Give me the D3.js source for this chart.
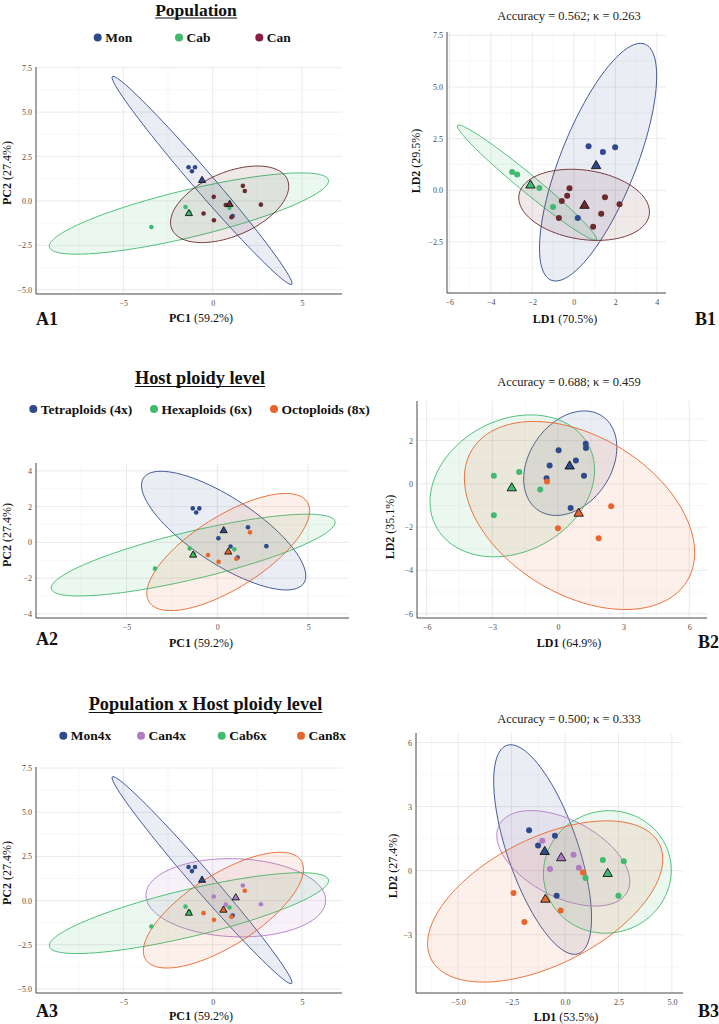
<!DOCTYPE html>
<html><head><meta charset="utf-8">
<script src="https://cdn.jsdelivr.net/npm/d3@7"></script>
<style>body{margin:0;background:#fff;} svg{display:block;font-family:"Liberation Serif","Times New Roman",serif;}</style>
</head><body><svg id="c" width="719" height="1024"></svg>
<script>
// ---------------- DATA ----------------
// PCA scores (PC1, PC2)
const pcaMon   = [[-1.35,1.90],[-0.99,1.90],[-1.16,1.67],[1.12,-0.85]];
const pcaCab   = [[-1.52,-0.34],[-3.43,-1.47],[0.94,-0.39],[-1.31,-0.64]];
const pcaCan4x = [[0.06,0.23],[1.69,0.85],[0.73,-0.23],[2.70,-0.21]];
const pcaCan8x = [[1.80,0.56],[-0.51,-0.71],[0.07,-1.09],[1.05,-0.92]];
// LDA by population (LD1, LD2)
const lda1Mon = [[0.71,2.13],[1.40,1.85],[1.99,2.08],[0.19,-1.34]];
const lda1Cab = [[-2.97,0.89],[-2.73,0.77],[-1.66,0.11],[-1.00,-0.81]];
const lda1Can = [[-0.21,0.10],[-0.32,-0.26],[-0.58,-0.52],[-0.72,-1.34],[0.93,-1.77],[1.32,-1.13],[1.50,-0.34],[2.20,-0.68]];
// LDA by host ploidy
const lda2Tetra = [[1.27,1.85],[1.28,1.66],[0.03,1.55],[0.82,1.08],[-0.38,0.85],[1.19,0.37],[-0.52,0.26],[0.58,-1.12]];
const lda2Hexa  = [[-2.93,0.37],[-1.77,0.55],[-2.93,-1.45],[-0.81,-0.26]];
const lda2Octo  = [[-0.50,0.11],[2.43,-1.03],[0.00,-2.05],[1.86,-2.51]];
// LDA by population x ploidy
const lda3Mon4x = [[-1.68,1.90],[-1.26,1.18],[-0.47,1.64],[-0.39,-1.18]];
const lda3Can4x = [[-1.06,1.40],[0.40,0.75],[-0.70,0.08],[0.65,0.14]];
const lda3Cab6x = [[1.77,0.50],[2.75,0.44],[0.96,-0.34],[2.50,-1.17]];
const lda3Can8x = [[0.84,-0.09],[-2.41,-1.04],[-1.90,-2.40],[-0.20,-1.87]];

// categories / labels
const catsPop    = ["Mon","Cab","Can"];
const catsPloidy = ["Tetraploids (4x)","Hexaploids (6x)","Octoploids (8x)"];
const catsPopPl  = ["Mon4x","Can4x","Cab6x","Can8x"];
const titles     = ["Population","Host ploidy level","Population x Host ploidy level"];
const accLabels  = ["Accuracy = 0.562; \u03BA = 0.263","Accuracy = 0.688; \u03BA = 0.459","Accuracy = 0.500; \u03BA = 0.333"];
const pcVar = ["PC1"," (59.2%)","PC2"," (27.4%)"];
const ldVar = [["LD1"," (70.5%)","LD2"," (29.5%)"],["LD1"," (64.9%)","LD2"," (35.1%)"],["LD1"," (53.5%)","LD2"," (27.4%)"]];
// tick values
const ticksPcX   = [-5,0,5];
const ticksPcY13 = [-5,-2.5,0,2.5,5,7.5];
const ticksPcY2  = [-4,-2,0,2,4];
const ticksB1X = [-6,-4,-2,0,2,4];
const ticksB1Y = [-2.5,0,2.5,5,7.5];
const ticksB2X = [-6,-3,0,3,6];
const ticksB2Y = [-6,-4,-2,0,2];
const ticksB3X = [-5,-2.5,0,2.5,5];
const ticksB3Y = [-3,0,3,6];

// ---------------- STYLE ----------------
const C = {blue:"#2f4a8c", green:"#3fba6e", can:"#6b2a2e", canLeg:"#8e1b45", orange:"#e8662c", purple:"#b07cc6"};

// ---------------- HELPERS ----------------
const svg = d3.select("#c");
function qf2(p,d2){ return (d2/2)*(Math.pow(1-p,-2/d2)-1); }
function meanOf(pts){ return [d3.mean(pts,d=>d[0]), d3.mean(pts,d=>d[1])]; }
function covNorm(pts){
  const m=meanOf(pts), n=pts.length; let a=0,b=0,c=0;
  pts.forEach(d=>{const x=d[0]-m[0], y=d[1]-m[1]; a+=x*x; b+=x*y; c+=y*y;});
  return {center:m, cov:[a/(n-1),b/(n-1),c/(n-1)]};
}
function covTrob(pts,nu=5,maxit=25,tol=0.01){
  const n=pts.length; let loc=meanOf(pts); let w=pts.map(()=>1); let X;
  for(let it=0; it<maxit; it++){
    const w0=w.slice();
    X=pts.map(d=>[d[0]-loc[0], d[1]-loc[1]]);
    const sw=d3.sum(w); let a=0,b=0,c=0;
    X.forEach((x,i)=>{const f=w[i]/sw; a+=f*x[0]*x[0]; b+=f*x[0]*x[1]; c+=f*x[1]*x[1];});
    const det=a*c-b*b;
    w=X.map(x=>(nu+2)/(nu+(c*x[0]*x[0]-2*b*x[0]*x[1]+a*x[1]*x[1])/det));
    const sw2=d3.sum(w);
    loc=[d3.sum(pts,(d,i)=>w[i]*d[0])/sw2, d3.sum(pts,(d,i)=>w[i]*d[1])/sw2];
    if(w.every((v,i)=>Math.abs(v-w0[i])<tol)) break;
  }
  let a=0,b=0,c=0; X.forEach((x,i)=>{a+=w[i]*x[0]*x[0]; b+=w[i]*x[0]*x[1]; c+=w[i]*x[1]*x[1];});
  return {center:loc, cov:[a/n,b/n,c/n]};
}
function ellipsePts(pts,type,level=0.95,seg=90){
  const v = type==="t"?covTrob(pts):covNorm(pts);
  const [a,b,c]=v.cov; const r11=Math.sqrt(a), r12=b/r11, r22=Math.sqrt(Math.max(c-r12*r12,1e-9));
  const rad=Math.sqrt(2*qf2(level,pts.length-1));
  return d3.range(seg+1).map(i=>{const t=i*2*Math.PI/seg, ct=Math.cos(t), st=Math.sin(t);
    return [v.center[0]+rad*ct*r11, v.center[1]+rad*(ct*r12+st*r22)];});
}
function minorTicks(ticks,dom){
  const s=ticks[1]-ticks[0], out=[];
  for(let t=ticks[0]-s*10+s/2; t<=dom[1]; t+=s) if(t>=dom[0]) out.push(t);
  return out;
}
function twoPart(sel,bold,normal){
  sel.append("tspan").attr("font-weight","bold").text(bold);
  sel.append("tspan").text(normal);
}

function panel(cfg){
  const g=svg.append("g");
  const x=d3.scaleLinear().domain(cfg.xDomain).range([cfg.left,cfg.right]);
  const y=d3.scaleLinear().domain(cfg.yDomain).range([cfg.bottom,cfg.top]);
  // grid
  const grid=g.append("g");
  minorTicks(cfg.xTicks,cfg.xDomain).forEach(t=>grid.append("line").attr("x1",x(t)).attr("x2",x(t)).attr("y1",cfg.top).attr("y2",cfg.bottom).attr("stroke","#f1f1f1").attr("stroke-width",0.6));
  minorTicks(cfg.yTicks,cfg.yDomain).forEach(t=>grid.append("line").attr("y1",y(t)).attr("y2",y(t)).attr("x1",cfg.left).attr("x2",cfg.right).attr("stroke","#f1f1f1").attr("stroke-width",0.6));
  cfg.xTicks.forEach(t=>grid.append("line").attr("x1",x(t)).attr("x2",x(t)).attr("y1",cfg.top).attr("y2",cfg.bottom).attr("stroke","#e4e4e4").attr("stroke-width",0.8));
  cfg.yTicks.forEach(t=>grid.append("line").attr("y1",y(t)).attr("y2",y(t)).attr("x1",cfg.left).attr("x2",cfg.right).attr("stroke","#e4e4e4").attr("stroke-width",0.8));
  // axes (no tick marks)
  const ax=g.append("g").attr("transform",`translate(0,${cfg.bottom})`)
    .call(d3.axisBottom(x).tickValues(cfg.xTicks).tickSize(0).tickPadding(6).tickFormat(cfg.xFmt));
  const ay=g.append("g").attr("transform",`translate(${cfg.left},0)`)
    .call(d3.axisLeft(y).tickValues(cfg.yTicks).tickSize(0).tickPadding(4).tickFormat(cfg.yFmt));
  [ax,ay].forEach(a=>{a.attr("font-family",'"Liberation Serif",serif');
    a.select(".domain").attr("stroke","#333").attr("stroke-width",0.9);
    a.selectAll("text").attr("font-family",'"Liberation Serif",serif').attr("font-size",8).attr("fill","#4d4d4d");});
  ay.select(".domain").attr("d",`M0,${cfg.top}V${cfg.bottom}`);
  ax.select(".domain").attr("d",`M${cfg.left},0H${cfg.right}`);
  // ellipses
  const line=d3.line().x(d=>x(d[0])).y(d=>y(d[1]));
  cfg.groups.forEach(gr=>{
    g.append("path").attr("d",line(ellipsePts(gr.pts,cfg.ellType))+"Z")
      .attr("fill",gr.color).attr("fill-opacity",0.1).attr("stroke",gr.color).attr("stroke-width",0.9);
  });
  // points
  cfg.groups.forEach(gr=>{
    g.selectAll(null).data(gr.pts).enter().append("circle")
      .attr("cx",d=>x(d[0])).attr("cy",d=>y(d[1])).attr("r",cfg.r).attr("fill",gr.color);
  });
  // group means
  const tri=d3.symbol().type(d3.symbolTriangle).size(cfg.triSize);
  cfg.groups.forEach(gr=>{
    const m=meanOf(gr.pts);
    g.append("path").attr("d",tri()).attr("transform",`translate(${x(m[0])},${y(m[1])})`)
      .attr("fill",gr.color).attr("stroke","#111").attr("stroke-width",0.9);
  });
  // axis titles
  const xt=g.append("text").attr("x",cfg.xLab[0]).attr("y",cfg.xLab[1]).attr("text-anchor","middle").attr("font-size",12).attr("fill","#111");
  twoPart(xt,cfg.labels[0],cfg.labels[1]);
  const yt=g.append("text").attr("transform",`translate(${cfg.yLab[0]},${cfg.yLab[1]}) rotate(-90)`).attr("text-anchor","middle").attr("font-size",12).attr("fill","#111");
  twoPart(yt,cfg.labels[2],cfg.labels[3]);
  // panel letter
  g.append("text").attr("x",cfg.letter[0]).attr("y",cfg.letter[1]).attr("font-size",18).attr("font-weight","bold").attr("fill","#111").text(cfg.letterText);
  // accuracy
  if(cfg.acc) g.append("text").attr("x",cfg.acc[0]).attr("y",cfg.acc[1]).attr("text-anchor","middle").attr("font-size",12.5).attr("fill","#222").text(cfg.accText);
}

function header(title,tx,ty,fs,items,ly){
  const t=svg.append("text").attr("x",tx).attr("y",ty).attr("text-anchor","middle").attr("font-size",fs).attr("font-weight","bold").attr("fill","#111").text(title);
  const bb=t.node().getBBox();
  svg.append("line").attr("x1",bb.x).attr("x2",bb.x+bb.width).attr("y1",ty+2.5).attr("y2",ty+2.5).attr("stroke","#111").attr("stroke-width",1.1);
  items.forEach(it=>{
    svg.append("circle").attr("cx",it.x).attr("cy",ly).attr("r",4).attr("fill",it.color);
    svg.append("text").attr("x",it.x+7.5).attr("y",ly+4.6).attr("font-size",13.5).attr("font-weight","bold").attr("fill","#111").text(it.label);
  });
}

const f1=d3.format(".1f"), f0=d3.format("d");

// ---------------- HEADERS ----------------
header(titles[0],196,15.5,17.5,[{x:97.7,color:C.blue,label:catsPop[0]},{x:179,color:C.green,label:catsPop[1]},{x:259.3,color:C.canLeg,label:catsPop[2]}],37.5);
header(titles[1],200,384,18.3,[{x:33.3,color:C.blue,label:catsPloidy[0]},{x:154,color:C.green,label:catsPloidy[1]},{x:274,color:C.orange,label:catsPloidy[2]}],409);
header(titles[2],205.5,710,18.3,[{x:63.3,color:C.blue,label:catsPopPl[0]},{x:141,color:C.purple,label:catsPopPl[1]},{x:221.7,color:C.green,label:catsPopPl[2]},{x:301,color:C.orange,label:catsPopPl[3]}],735.7);

// ---------------- PANELS ----------------
const pcaCan = pcaCan4x.concat(pcaCan8x);
const pcaTetra = pcaMon.concat(pcaCan4x);

panel({left:36,right:342,top:67,bottom:294,xDomain:[-9.89,7.24],yDomain:[-5.24,7.54],xTicks:ticksPcX,yTicks:ticksPcY13,xFmt:f0,yFmt:f1,
  ellType:"norm",r:2.3,triSize:22,labels:pcVar,xLab:[201,322],yLab:[11,173],letter:[36,325],letterText:"A1",
  groups:[{pts:pcaMon,color:C.blue},{pts:pcaCab,color:C.green},{pts:pcaCan,color:C.can}]});
panel({left:36,right:349,top:463,bottom:618,xDomain:[-9.98,7.25],yDomain:[-4.23,4.44],xTicks:ticksPcX,yTicks:ticksPcY2,xFmt:f0,yFmt:f0,
  ellType:"norm",r:2.3,triSize:22,labels:pcVar,xLab:[201,647],yLab:[11,535],letter:[36,645],letterText:"A2",
  groups:[{pts:pcaTetra,color:C.blue},{pts:pcaCab,color:C.green},{pts:pcaCan8x,color:C.orange}]});
panel({left:36,right:342,top:767,bottom:993,xDomain:[-9.89,7.24],yDomain:[-5.23,7.56],xTicks:ticksPcX,yTicks:ticksPcY13,xFmt:f0,yFmt:f1,
  ellType:"norm",r:2.3,triSize:22,labels:pcVar,xLab:[201,1020],yLab:[11,873],letter:[36,1017],letterText:"A3",
  groups:[{pts:pcaMon,color:C.blue},{pts:pcaCan4x,color:C.purple},{pts:pcaCab,color:C.green},{pts:pcaCan8x,color:C.orange}]});

panel({left:447,right:666,top:32,bottom:293,xDomain:[-6.11,4.44],yDomain:[-4.97,7.66],xTicks:ticksB1X,yTicks:ticksB1Y,xFmt:f0,yFmt:f1,
  ellType:"t",r:3,triSize:38,labels:ldVar[0],xLab:[565,323],yLab:[419.5,161],letter:[695,325],letterText:"B1",
  acc:[569,20],accText:accLabels[0],
  groups:[{pts:lda1Mon,color:C.blue},{pts:lda1Cab,color:C.green},{pts:lda1Can,color:C.can}]});
panel({left:417,right:707,top:401,bottom:618,xDomain:[-6.44,6.81],yDomain:[-6.2,3.83],xTicks:ticksB2X,yTicks:ticksB2Y,xFmt:f0,yFmt:f0,
  ellType:"t",r:3,triSize:38,labels:ldVar[1],xLab:[569,647],yLab:[393.5,527],letter:[698,648],letterText:"B2",
  acc:[569,386],accText:accLabels[1],
  groups:[{pts:lda2Tetra,color:C.blue},{pts:lda2Hexa,color:C.green},{pts:lda2Octo,color:C.orange}]});
panel({left:416,right:683,top:733,bottom:993,xDomain:[-6.97,5.52],yDomain:[-5.73,6.45],xTicks:ticksB3X,yTicks:ticksB3Y,xFmt:f1,yFmt:f0,
  ellType:"t",r:3,triSize:38,labels:ldVar[2],xLab:[566,1021],yLab:[397,866],letter:[698,1017],letterText:"B3",
  acc:[569,723],accText:accLabels[2],
  groups:[{pts:lda3Mon4x,color:C.blue},{pts:lda3Can4x,color:C.purple},{pts:lda3Cab6x,color:C.green},{pts:lda3Can8x,color:C.orange}]});
</script></body></html>
